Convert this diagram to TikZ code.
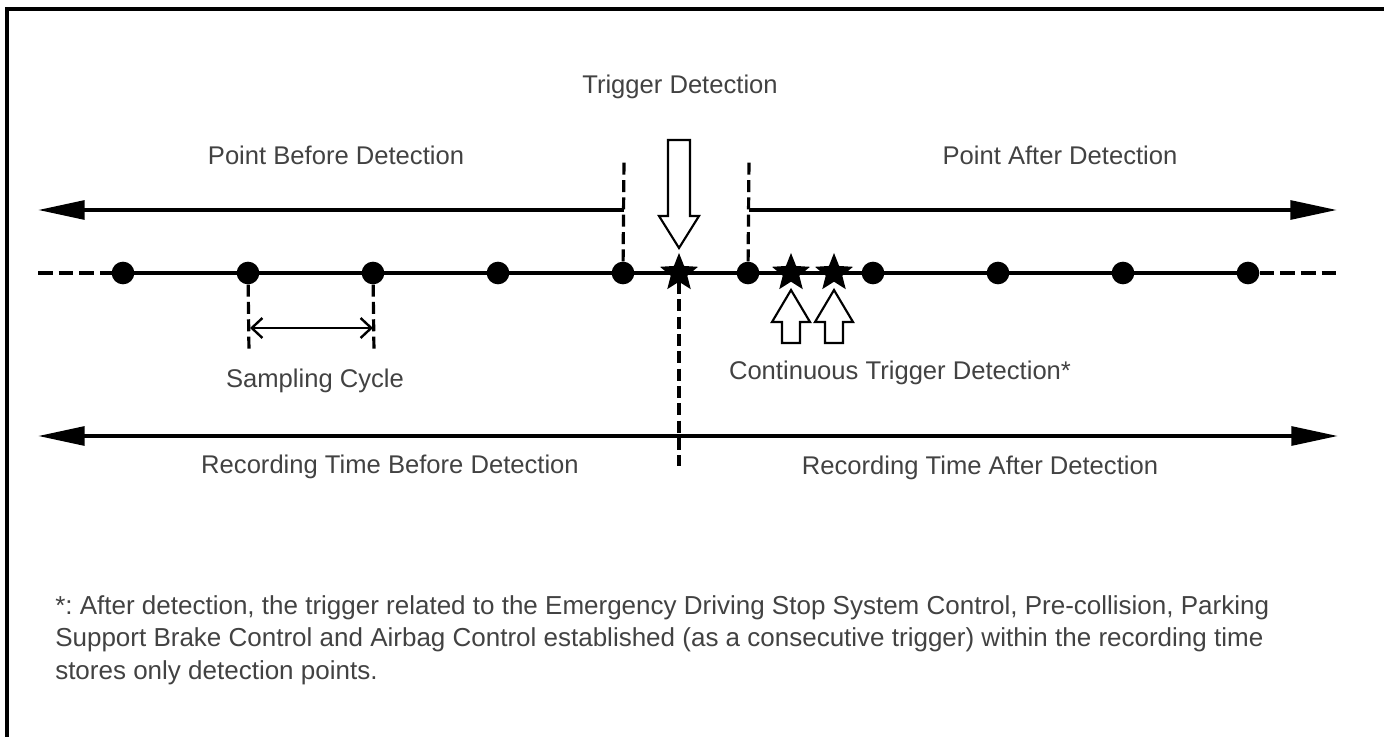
\documentclass[tikz,border=0pt]{standalone}
\usepackage{fontspec}
\setmainfont{Liberation Sans}
\frenchspacing
\usepackage{tikz}
\usetikzlibrary{arrows.meta,shapes.geometric,positioning}
\usepackage{xcolor}
\definecolor{lbltext}{RGB}{66,66,66}
\tikzstyle{sample} = [circle, fill=black, inner sep=0pt, minimum size=17pt]
\tikzstyle{trig} = [star, star points=5, star point ratio=2.3, fill=black, inner sep=0pt, minimum size=30pt]
\tikzstyle{lbl} = [font=\fontsize{19.2}{24.4}\selectfont, text=lbltext, inner sep=0pt]
\tikzstyle{timeline} = [line width=3pt]
\tikzstyle{timeend} = [line width=3pt, dash pattern=on 11pt off 4.5pt]
\tikzstyle{timearrow} = [line width=3pt, -{Triangle[length=35pt,width=14pt]}]
\tikzstyle{guide} = [line width=2.4pt, dash pattern=on 9pt off 4pt]
\tikzstyle{cyclearrow} = [line width=1.8pt, {Straight Barb[length=8pt,width=15pt]}-{Straight Barb[length=8pt,width=15pt]}]
\tikzstyle{hollow} = [draw=black, fill=white, line width=1.6pt, line join=miter]

\begin{document}
\begin{tikzpicture}[x=0.75pt, y=-0.75pt, node distance=12pt]
\useasboundingbox (0,0) rectangle (1384,737);
% frame
\draw[line width=2.3pt] (7,737) -- (7,9) -- (1384,9);

% time axis with sample points
\coordinate (axl) at (38,273);
\coordinate (axr) at (1336,273);
\draw[timeline] (123,273) -- (1248,273);
\foreach \i in {1,...,10}
  \node[sample] (p\i) at ({123+125*(\i-1)},273) {};
\draw[timeend] (axl) -- (p1.center);
\draw[timeend] (p10.east) -- (axr);

% trigger and continuous triggers
\node[trig] (t0) at (679,273) {};
\node[trig] (t1) at (791,273) {};
\node[trig] (t2) at (834,273) {};

% detection window
\coordinate (w5) at (624,159);
\coordinate (w6) at (749,159);
\draw[guide] (p5) -- (w5);
\draw[guide] (p6) -- (w6);
\coordinate (bl) at (624,210);
\coordinate (blend) at (38,210);
\coordinate (al) at (749,210);
\coordinate (alend) at (1337,210);
\draw[timearrow, line join=miter] (bl) -- (blend);
\draw[timearrow] (al) -- (alend);
\node[lbl] (before) at (336,155) {Point Before Detection};
\node[lbl] (after) at (1060,155) {Point After Detection};

% trigger detection arrow
\draw[hollow] (t0) ++(0,-25) -- ++(-20,-32) -- ++(9,0) -- ++(0,-76) -- ++(22,0)
  -- ++(0,76) -- ++(9,0) -- cycle;
\node[lbl] (trigtxt) at (680,87) {Trigger Detection};

% continuous trigger arrows
\foreach \t in {t1,t2}
  \draw[hollow] (\t) ++(0,17) -- ++(19,32) -- ++(-10,0) -- ++(0,21) -- ++(-18,0)
    -- ++(0,-21) -- ++(-10,0) -- cycle;
\node[lbl] (conttxt) at (900,373) {Continuous Trigger Detection*};

% sampling cycle
\coordinate (s2) at (249,353);
\coordinate (s3) at (374,353);
\draw[guide] (p2) -- (s2);
\draw[guide] (p3) -- (s3);
\coordinate (c2) at (250,328);
\coordinate (c3) at (373,328);
\draw[cyclearrow] (c2) -- (c3);
\node[lbl] (cycletxt) at (315,381) {Sampling Cycle};

% recording time
\coordinate (rl) at (38,436);
\coordinate (rr) at (1338,436);
\coordinate (tdown) at (679,466);
\draw[guide] (t0) -- (tdown);
\draw[line width=3pt, {Triangle[length=35pt,width=14pt]}-{Triangle[length=35pt,width=14pt]}] (rl) -- (rr);
\node[lbl] (rbefore) at (390,467) {Recording Time Before Detection};
\node[lbl] (rafter) at (980,468) {Recording Time After Detection};

% note
\node[lbl, font=\fontsize{19.5}{24.4}\selectfont, anchor=north west, align=left] (note) at (55,595) {*: After detection, the trigger related to the Emergency Driving Stop System Control, Pre-collision, Parking\\
Support Brake Control and Airbag Control established (as a consecutive trigger) within the recording time\\
stores only detection points.};
\end{tikzpicture}
\end{document}
